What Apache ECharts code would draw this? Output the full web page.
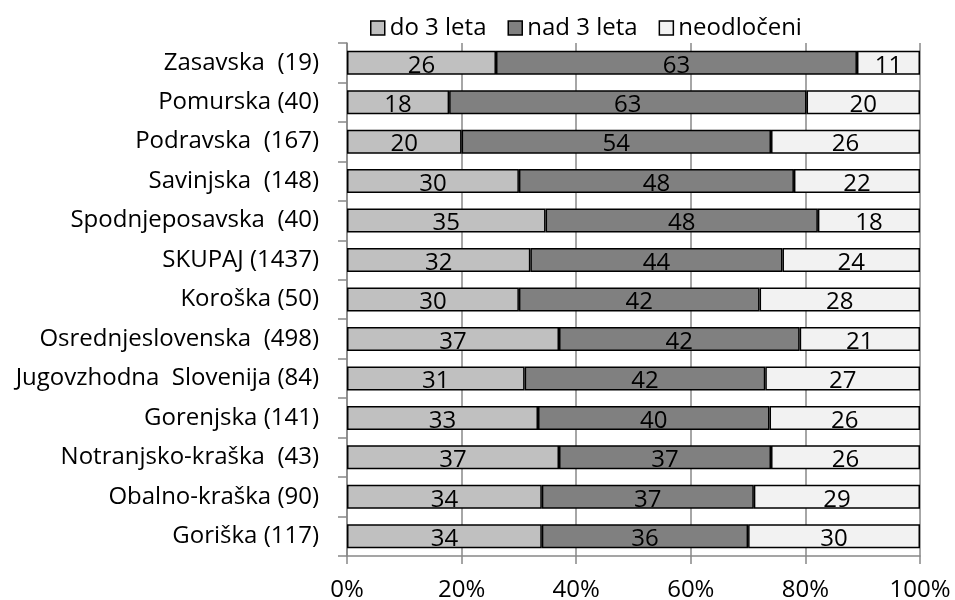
<!DOCTYPE html>
<html>
<head>
<meta charset="utf-8">
<script src="https://cdn.jsdelivr.net/npm/echarts@6/dist/echarts.min.js"></script>
<style>
  html, body { margin: 0; padding: 0; background: #fff; }
  #main { width: 955px; height: 600px; }
</style>
</head>
<body>
<div id="main"></div>
<script>
// regije od spodaj navzgor (kategorijska os se riše od spodaj)
var categories = [
  'Goriška (117)', 'Obalno-kraška (90)', 'Notranjsko-kraška  (43)', 'Gorenjska (141)',
  'Jugovzhodna  Slovenija (84)', 'Osrednjeslovenska  (498)', 'Koroška (50)', 'SKUPAJ (1437)',
  'Spodnjeposavska  (40)', 'Savinjska  (148)', 'Podravska  (167)', 'Pomurska (40)', 'Zasavska  (19)'
];
var do3 = [34, 34, 37, 33, 31, 37, 30, 32, 35, 30, 20, 18, 26];
var nad3 = [36, 37, 37, 40, 42, 42, 42, 44, 48, 48, 54, 63, 63];
var neodloceni = [30, 29, 26, 26, 27, 21, 28, 24, 18, 22, 26, 20, 11];
var xTicks = [0, 20, 40, 60, 80, 100];

var seriesNames = ['do 3 leta', 'nad 3 leta', 'neodločeni'];
var colors = ['#c0c0c0', '#808080', '#f2f2f2'];
var raw = [do3, nad3, neodloceni];

// delež v vrstici (vsote niso vedno točno 100)
function share(arr, i) {
  var tot = do3[i] + nad3[i] + neodloceni[i];
  return arr[i] / tot * 100;
}

var font = 'Open Sans';
var series = raw.map(function (arr, k) {
  return {
    name: seriesNames[k],
    type: 'bar',
    stack: 'vsi',
    barWidth: 24,
    itemStyle: { color: colors[k], borderColor: '#000', borderWidth: 1.5 },
    label: {
      show: true, position: 'inside', offset: [0, 3],
      color: '#000', fontFamily: font, fontSize: 24,
      formatter: function (p) { return arr[p.dataIndex]; }
    },
    data: arr.map(function (v, i) { return share(arr, i); })
  };
});

var myChart = echarts.init(document.getElementById('main'));
var option = {
  animation: false,
  legend: {
    top: 11, left: 365,
    itemWidth: 14, itemHeight: 14, itemGap: 21,
    icon: 'rect',
    textStyle: { fontFamily: font, fontSize: 24, color: '#000' },
    itemStyle: { borderColor: '#000', borderWidth: 1.5 },
    data: seriesNames
  },
  grid: { left: 347, right: 35, top: 43, bottom: 44, outerBoundsMode: 'none' },
  xAxis: {
    type: 'value', min: 0, max: 100, interval: 20,
    axisLine: { show: true, lineStyle: { color: '#888', width: 1.5 } },
    axisTick: { show: true, length: 8, lineStyle: { color: '#888', width: 1.5 } },
    splitLine: { show: true, lineStyle: { color: '#888', width: 1.5 } },
    axisLabel: {
      fontFamily: font, fontSize: 24, color: '#000', margin: 22,
      formatter: function (v) { return xTicks.indexOf(v) >= 0 ? v + '%' : ''; }
    }
  },
  yAxis: {
    type: 'category', data: categories,
    axisLine: { show: true, lineStyle: { color: '#888', width: 1.5 } },
    axisTick: { show: true, length: 9, lineStyle: { color: '#888', width: 1.5 } },
    axisLabel: { fontFamily: font, fontSize: 24, color: '#000', margin: 28 }
  },
  series: series
};
myChart.setOption(option);
</script>
</body>
</html>
